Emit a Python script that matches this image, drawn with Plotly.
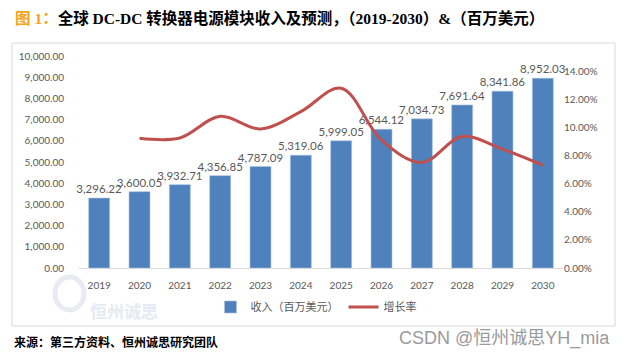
import plotly.graph_objects as go

years = ["2019", "2020", "2021", "2022", "2023", "2024", "2025", "2026", "2027", "2028", "2029", "2030"]
revenue = [3296.22, 3600.05, 3932.71, 4356.85, 4787.09, 5319.06, 5999.05, 6544.12, 7034.73, 7691.64, 8341.86, 8952.03]
growth_years = years[1:]
growth = [0.0922, 0.0924, 0.1078, 0.0988, 0.1111, 0.1278, 0.0909, 0.0750, 0.0934, 0.0845, 0.0731]
left_ticks = [0, 1000, 2000, 3000, 4000, 5000, 6000, 7000, 8000, 9000, 10000]
right_ticks = [0, 0.02, 0.04, 0.06, 0.08, 0.10, 0.12, 0.14]

W, H = 626, 354
L, R, T, B = 79, 563, 56, 268


def px(x):
    return (x - L) / (R - L)


def py(y):
    return (B - y) / (B - T)


GRAY = "#595959"
TICKFONT = dict(family="Lato, 'Open Sans', sans-serif", size=10, color=GRAY)

fig = go.Figure()
fig.add_trace(go.Bar(
    x=years, y=revenue, name="收入（百万美元）",
    marker=dict(color="#4F81BD", line=dict(width=0.6, color="#A9C1E0")),
    texttemplate="%{y:,.2f}", textposition="outside", cliponaxis=False,
    constraintext="none",
    textfont=dict(family="Lato, 'Open Sans', sans-serif", size=11.5, color=GRAY),
    yaxis="y",
))
fig.add_trace(go.Scatter(
    x=growth_years, y=growth, name="增长率", mode="lines",
    line=dict(color="#C0504D", width=3, shape="spline", smoothing=1.0),
    yaxis="y2",
))

fig.update_layout(
    width=W, height=H,
    margin=dict(l=L, r=W - R, t=T, b=H - B, pad=0),
    paper_bgcolor="white", plot_bgcolor="white",
    bargap=0.48,
    showlegend=True,
    legend=dict(
        orientation="h", x=px(316), xanchor="center", y=py(307), yanchor="middle",
        font=dict(family="'Noto Sans CJK SC', sans-serif", size=11, color=GRAY),
        itemwidth=30, bgcolor="rgba(0,0,0,0)", tracegroupgap=0,
    ),
    xaxis=dict(
        type="category", showgrid=False, showline=True, linecolor="#D9D9D9", linewidth=1,
        ticks="outside", ticklen=8, tickcolor="rgba(0,0,0,0)", tickfont=TICKFONT,
        zeroline=False,
    ),
    yaxis=dict(
        range=[0, 10000], tickvals=left_ticks, tickformat=",.2f", showgrid=False,
        showline=False, zeroline=False, ticks="outside", ticklen=12,
        tickcolor="rgba(0,0,0,0)", tickfont=TICKFONT,
    ),
    yaxis2=dict(
        range=[0, 0.14 * (B - T) / (B - 71)], tickvals=right_ticks, tickformat=".2%",
        overlaying="y", side="right", showgrid=False, showline=False, zeroline=False,
        ticks="", tickfont=TICKFONT,
    ),
)

# chart border
fig.add_shape(type="rect", xref="paper", yref="paper",
              x0=px(12), x1=px(615), y0=py(326), y1=py(43),
              line=dict(color="#D9D9D9", width=1), fillcolor="rgba(0,0,0,0)", layer="below")

# faint logo watermark
fig.add_shape(type="circle", xref="paper", yref="paper",
              x0=px(55), x1=px(84), y0=py(310), y1=py(277),
              line=dict(color="#E8ECF2", width=5), fillcolor="rgba(0,0,0,0)", layer="below")
fig.add_annotation(xref="paper", yref="paper", x=px(88), y=py(310), xanchor="left", yanchor="middle",
                   text="<b>恒州诚思</b>", showarrow=False,
                   font=dict(family="'Noto Sans CJK SC', sans-serif", size=17, color="#E6EAF1"))

# title
fig.add_annotation(
    xref="paper", yref="paper", x=px(13), y=py(18), xanchor="left", yanchor="middle",
    showarrow=False,
    text="<b><span style='color:#F5A318'>图 1：</span>全球 DC-DC 转换器电源模块收入及预测，（2019-2030）&amp;（百万美元）</b>",
    font=dict(family="'Liberation Serif', 'Noto Sans CJK SC', serif", size=15.5, color="black"),
)

# source
fig.add_annotation(
    xref="paper", yref="paper", x=px(12), y=py(341), xanchor="left", yanchor="middle",
    showarrow=False, text="<b>来源：第三方资料、恒州诚思研究团队</b>",
    font=dict(family="'Noto Sans CJK SC', sans-serif", size=12, color="black"),
)

# CSDN watermark
fig.add_annotation(
    xref="paper", yref="paper", x=px(612), y=py(338), xanchor="right", yanchor="middle",
    showarrow=False, text="CSDN @恒州诚思YH_mia",
    font=dict(family="'Liberation Sans', 'Noto Sans CJK SC', sans-serif", size=18, color="#9A9A9A"),
)

fig.write_html("out.html")
